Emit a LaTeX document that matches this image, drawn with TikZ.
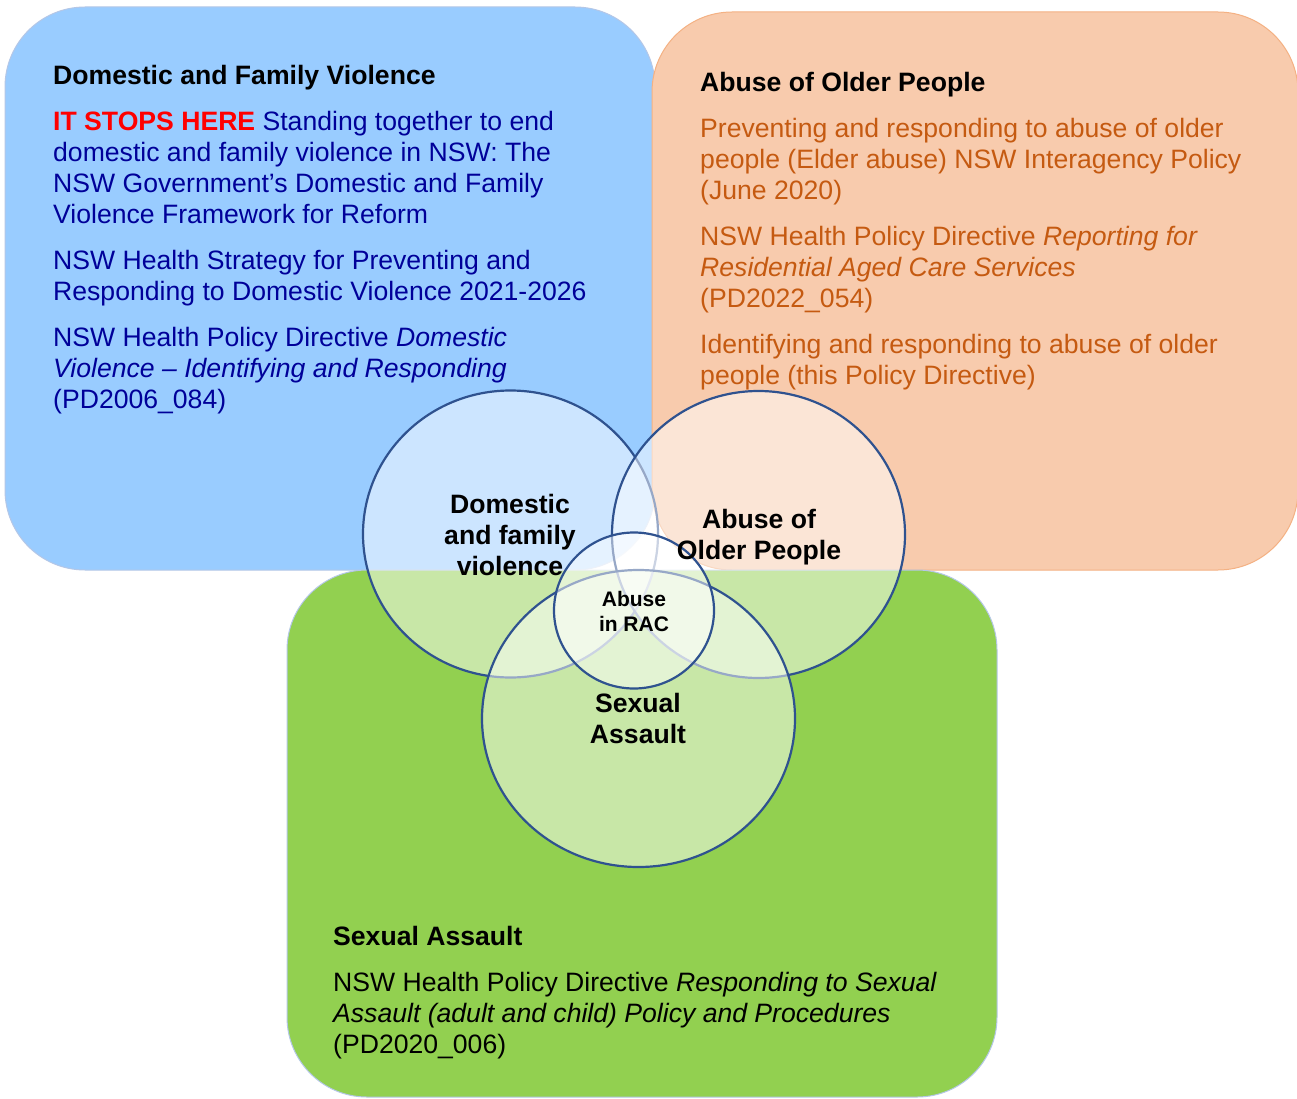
\documentclass[tikz,border=0pt]{standalone}
\usepackage{fontspec}
\setmainfont{Liberation Sans}
\definecolor{dfvblue}{RGB}{153,204,255}
\definecolor{aoporange}{RGB}{248,203,173}
\definecolor{sagreen}{RGB}{146,208,80}
\definecolor{ringblue}{RGB}{47,82,143}
\definecolor{dfvtext}{RGB}{0,0,153}
\definecolor{aoptext}{RGB}{197,90,17}
\definecolor{stopred}{RGB}{255,0,0}
\definecolor{boxline}{RGB}{180,199,231}
\definecolor{aopline}{RGB}{244,177,131}
\begin{document}
\begin{tikzpicture}[x=1pt,y=-1pt,
  box/.style={rounded corners=80pt,line width=1pt},
  ring/.style={draw=ringblue,line width=2.2pt,fill=white,fill opacity=0.5},
  ringlabel/.style={font=\fontsize{26.6}{31}\selectfont\bfseries,align=center,inner sep=0pt},
  boxtext/.style={font=\fontsize{26.6}{31}\selectfont,align=left,anchor=base west,inner sep=0pt}]
\useasboundingbox (0,0) rectangle (1297,1099);
\fill[white] (0,0) rectangle (1297,1099);

% the three boxes
\draw[box,fill=dfvblue,draw=boxline] (5,7) rectangle (655,570);
\draw[box,fill=aoporange,draw=aopline] (652,12) rectangle (1298,570);
\draw[box,fill=sagreen,draw=boxline] (287,570) rectangle (997,1097);

% texts sit on the baseline of their last line
\node[boxtext,text=dfvtext] (dfvtext) at (53,408) {%
{\bfseries\color{black}Domestic and Family Violence}\\[15pt]
{\bfseries\color{stopred}IT STOPS HERE} Standing together to end\\
domestic and family violence in NSW: The\\
NSW Government’s Domestic and Family\\
Violence Framework for Reform\\[15pt]
NSW Health Strategy for Preventing and\\
Responding to Domestic Violence 2021-2026\\[15pt]
NSW Health Policy Directive \textit{Domestic}\\
\textit{Violence – Identifying and Responding}\\
(PD2006\_084)};

\node[boxtext,text=aoptext] (aoptext) at (700,384) {%
{\bfseries\color{black}Abuse of Older People}\\[15pt]
Preventing and responding to abuse of older\\
people (Elder abuse) NSW Interagency Policy\\
(June 2020)\\[15pt]
NSW Health Policy Directive \textit{Reporting for}\\
\textit{Residential Aged Care Services}\\
(PD2022\_054)\\[15pt]
Identifying and responding to abuse of older\\
people (this Policy Directive)};

\node[boxtext,text=black] (satext) at (333,1053) {%
{\bfseries Sexual Assault}\\[15pt]
NSW Health Policy Directive \textit{Responding to Sexual}\\
\textit{Assault (adult and child) Policy and Procedures}\\
(PD2020\_006)};

% the rings
\path[ring] (510.5,534) ellipse [x radius=147.5pt,y radius=143.5pt];
\path[ring] (758.5,534.5) ellipse [x radius=146.5pt,y radius=143.5pt];
\path[ring] (638.5,718.5) ellipse [x radius=156.5pt,y radius=148.5pt];
\path[ring] (634,610.5) ellipse [x radius=80pt,y radius=78pt];

\node[ringlabel] (dfv) at (510,535) {Domestic\\and family\\violence};
\node[ringlabel] (aop) at (759,537) {Abuse of\\Older People};
\node[ringlabel,font=\fontsize{21}{25}\selectfont\bfseries] (rac) at (634,611.5) {Abuse\\in RAC};
\node[ringlabel] (sa) at (638,718.5) {Sexual\\Assault};
\end{tikzpicture}
\end{document}
